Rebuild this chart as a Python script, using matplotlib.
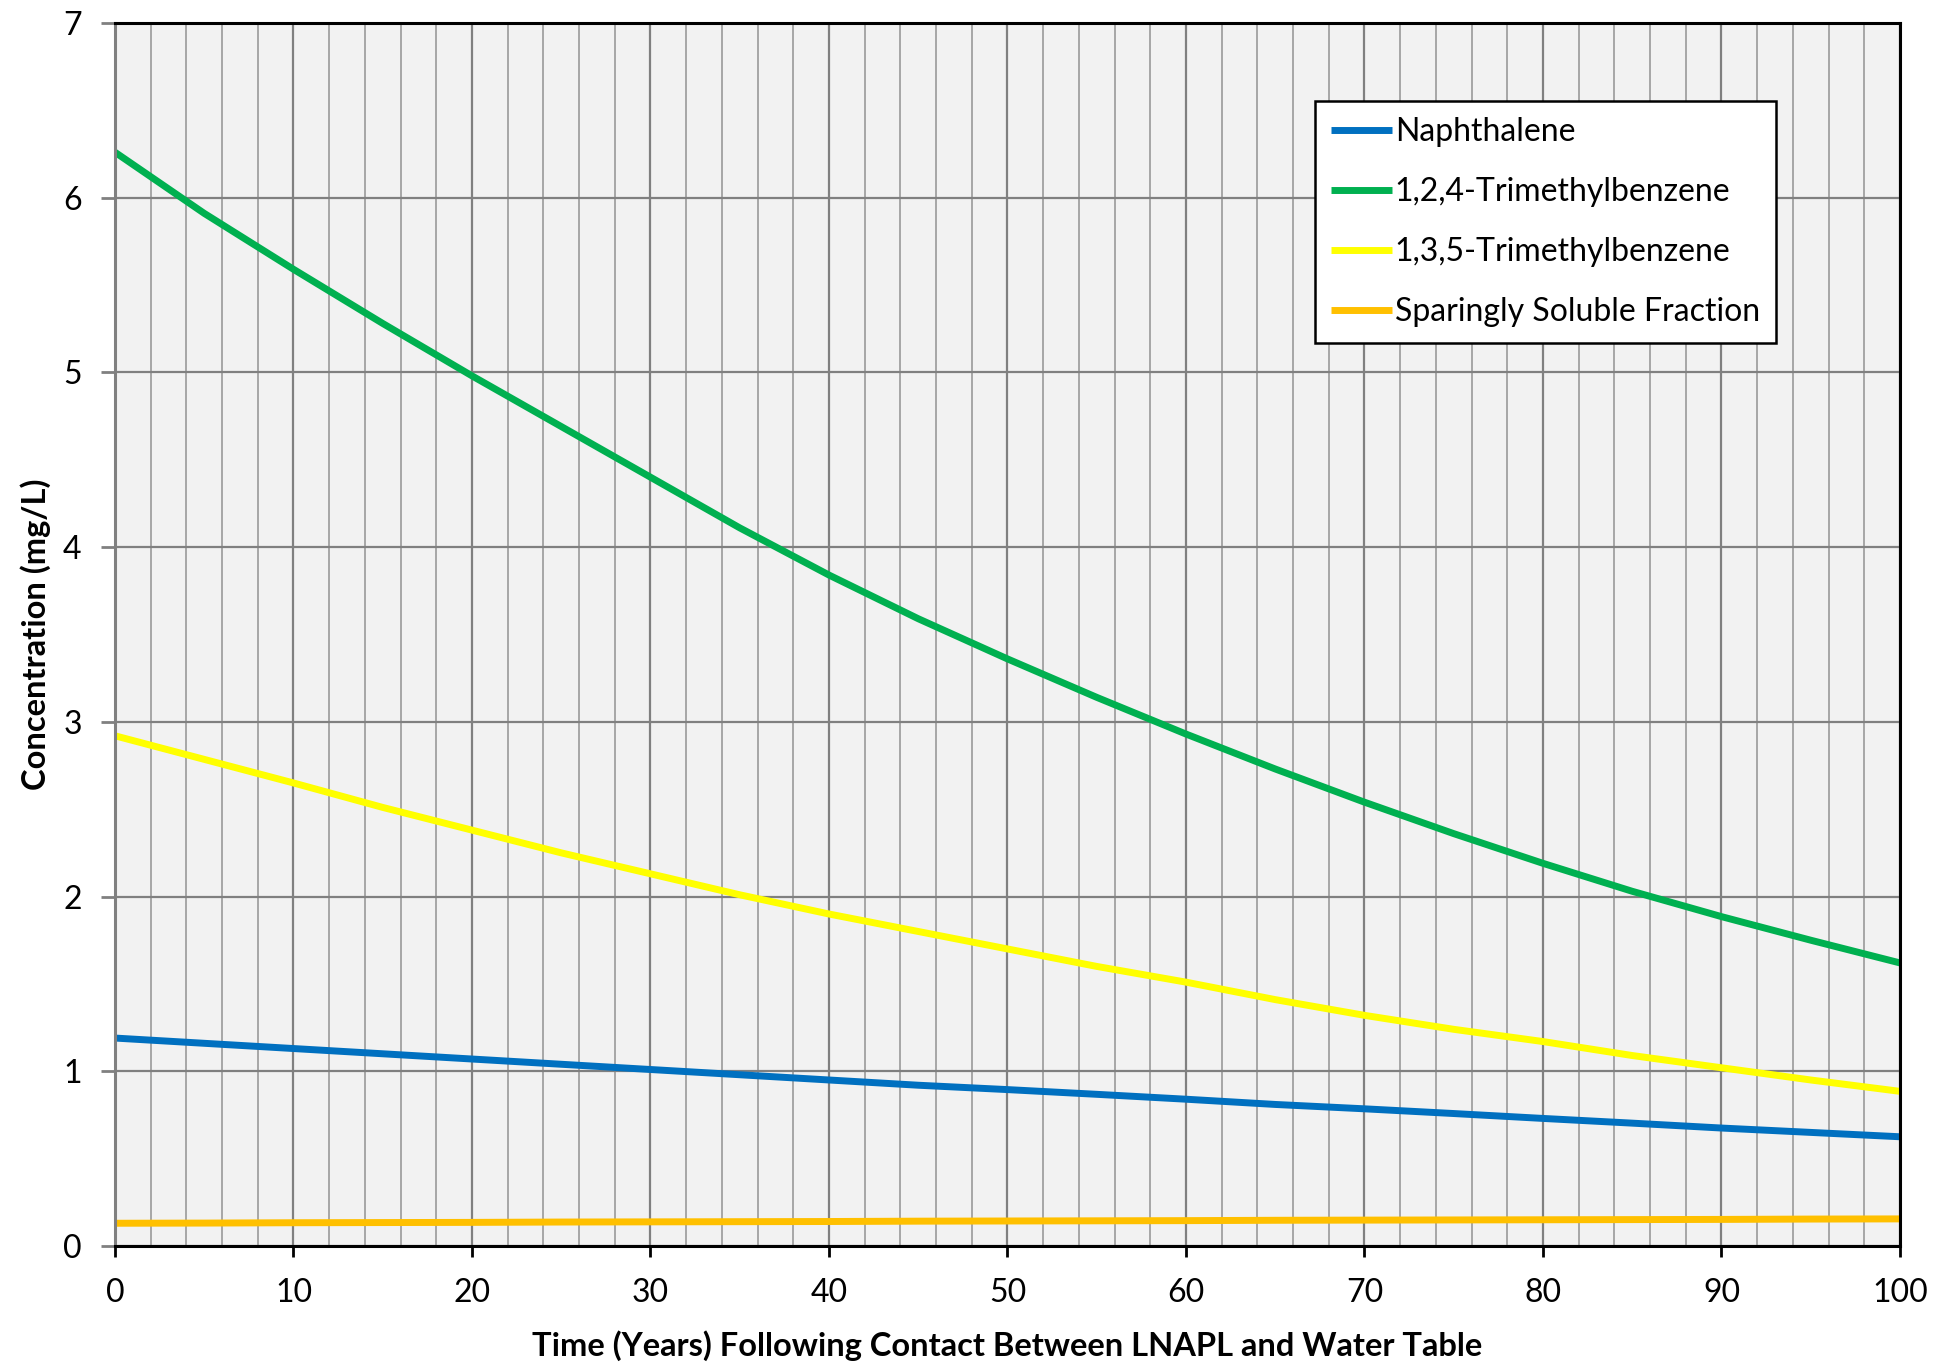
import matplotlib.pyplot as plt
from matplotlib.ticker import MultipleLocator

plt.rcParams['font.family'] = ['Lato', 'DejaVu Sans']

# time (years) and concentrations (mg/L)
years = [0, 5, 10, 15, 20, 25, 30, 35, 40, 45, 50, 55, 60, 65, 70, 75, 80, 85, 90, 95, 100]
naphthalene = [1.19, 1.16, 1.13, 1.10, 1.07, 1.04, 1.01, 0.98, 0.95, 0.92, 0.895,
               0.868, 0.84, 0.81, 0.785, 0.758, 0.73, 0.703, 0.675, 0.65, 0.625]
tmb124 = [6.26, 5.91, 5.59, 5.28, 4.98, 4.69, 4.40, 4.11, 3.84, 3.59, 3.36,
          3.14, 2.93, 2.73, 2.54, 2.36, 2.19, 2.03, 1.885, 1.75, 1.62]
tmb135 = [2.92, 2.785, 2.65, 2.51, 2.38, 2.25, 2.13, 2.01, 1.90, 1.80, 1.70,
          1.60, 1.51, 1.41, 1.32, 1.24, 1.17, 1.09, 1.02, 0.95, 0.885]
sparingly = [0.13, 0.131, 0.133, 0.134, 0.135, 0.137, 0.138, 0.139, 0.14, 0.142, 0.143,
             0.144, 0.145, 0.147, 0.148, 0.149, 0.15, 0.151, 0.152, 0.154, 0.155]

labels = ['Naphthalene', '1,2,4-Trimethylbenzene', '1,3,5-Trimethylbenzene',
          'Sparingly Soluble Fraction']
colors = ['#0070C0', '#00B050', '#FFFF00', '#FFC000']

fig = plt.figure(figsize=(19.36, 13.65), dpi=100)
ax = fig.add_axes([0.0594, 0.0872, 0.922, 0.896])
ax.set_facecolor('#f2f2f2')

for series, lab, col in zip([naphthalene, tmb124, tmb135, sparingly], labels, colors):
    ax.plot(years, series, color=col, lw=5, label=lab, solid_capstyle='butt')

ax.set_xlim(0, 100)
ax.set_ylim(0, 7)
ax.xaxis.set_major_locator(MultipleLocator(10))
ax.xaxis.set_minor_locator(MultipleLocator(2))
ax.yaxis.set_major_locator(MultipleLocator(1))

ax.grid(True, which='major', color='#808080', lw=1.6)
ax.grid(True, which='minor', axis='x', color='#a6a6a6', lw=1.4)
ax.set_axisbelow(True)

for s in ['top', 'right', 'bottom']:
    ax.spines[s].set_color('black')
    ax.spines[s].set_linewidth(2.2)
ax.spines['left'].set_color('#808080')
ax.spines['left'].set_linewidth(2.2)

ax.tick_params(axis='x', which='major', direction='out', length=8, width=2,
               color='black', labelsize=23, pad=15)
ax.tick_params(axis='x', which='minor', length=0)
ax.tick_params(axis='y', direction='out', length=10, width=2, color='#808080',
               labelsize=23, pad=14)

ax.set_xlabel('Time (Years) Following Contact Between LNAPL and Water Table',
              fontsize=23.5, fontweight='bold')
ax.set_ylabel('Concentration (mg/L)', fontsize=23.5, fontweight='bold')
ax.xaxis.set_label_coords(0.5, -0.069)
ax.yaxis.set_label_coords(-0.036, 0.5)

leg = ax.legend(loc='upper right', bbox_to_anchor=(0.9305, 0.936), fontsize=23,
                frameon=True, fancybox=False, edgecolor='black', framealpha=1,
                handlelength=1.9, handletextpad=0.1, labelspacing=0.94,
                borderpad=0.5, borderaxespad=0)
leg.get_frame().set_linewidth(1.8)

fig.savefig('out.png', dpi=100)
